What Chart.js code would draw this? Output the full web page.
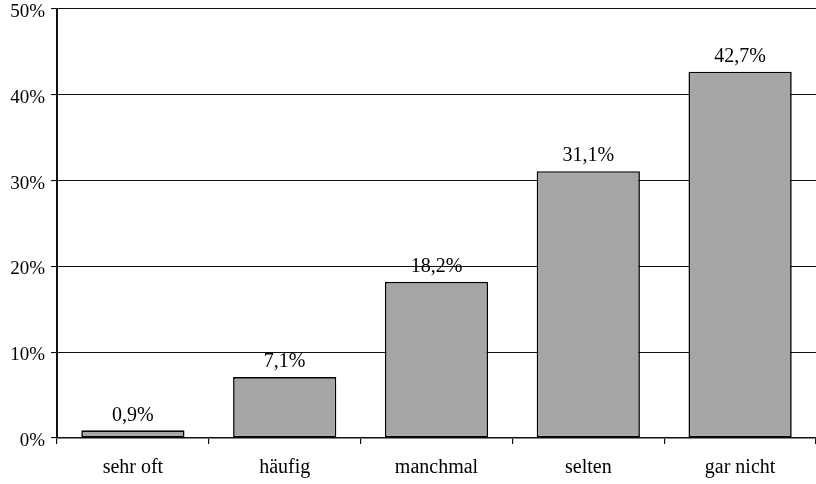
<!DOCTYPE html>
<html>
<head>
<meta charset="utf-8">
<script src="https://cdn.jsdelivr.net/npm/chart.js@4/dist/chart.umd.min.js"></script>
<style>
  html,body{margin:0;padding:0;background:#fff;}
  #wrap{width:816px;height:484px;position:relative;}
</style>
</head>
<body>
<div id="wrap"><canvas id="c" width="816" height="484"></canvas></div>
<script>
const categories = ['sehr oft','häufig','manchmal','selten','gar nicht'];
const shares = [0.9, 7.1, 18.2, 31.1, 42.7];
const yTicks = [0, 10, 20, 30, 40, 50];

const fmt = v => v.toFixed(1).replace('.', ',') + '%';
const serif = '"Liberation Serif", "Times New Roman", serif';

// labels above bars
const barLabels = {
  id: 'barLabels',
  afterDatasetsDraw(chart){
    const ctx = chart.ctx;
    const meta = chart.getDatasetMeta(0);
    ctx.save();
    ctx.font = '20px ' + serif;
    ctx.fillStyle = '#000';
    ctx.textAlign = 'center';
    ctx.textBaseline = 'bottom';
    meta.data.forEach((bar, i)=>{
      ctx.fillText(fmt(shares[i]), bar.x, bar.y - 5);
    });
    ctx.restore();
  }
};

new Chart(document.getElementById('c').getContext('2d'), {
  type: 'bar',
  data: {
    labels: categories,
    datasets: [{
      data: shares,
      backgroundColor: '#a6a6a6',
      borderColor: '#000',
      borderWidth: 1.6,
      borderSkipped: false,
      categoryPercentage: 1,
      barPercentage: 0.68
    }]
  },
  options: {
    responsive: false,
    animation: false,
    layout: { padding: { top: 9, right: 0, left: 0, bottom: 0 } },
    plugins: { legend: { display: false }, tooltip: { enabled: false } },
    scales: {
      x: {
        afterFit(s){ s.height = 46; s.paddingLeft = 0; s.paddingRight = 0; },
        grid: { offset: true, drawOnChartArea: false, drawTicks: true, tickLength: 6, color: '#111', lineWidth: 1.2 },
        border: { display: true, color: '#111', width: 1.6 },
        ticks: { color: '#000', font: { family: serif, size: 20 }, padding: 12 }
      },
      y: {
        min: 0, max: 50,
        afterFit(s){ s.width = 57; s.paddingTop = 0; s.paddingBottom = 0; },
        afterBuildTicks(s){ s.ticks = yTicks.map(v => ({ value: v })); },
        grid: { color: '#111', lineWidth: 1.1, tickLength: 6 },
        border: { display: true, color: '#111', width: 2 },
        ticks: { color: '#000', font: { family: serif, size: 19 }, padding: 6, labelOffset: 3, callback: v => v + '%' }
      }
    }
  },
  plugins: [barLabels]
});
</script>
</body>
</html>
